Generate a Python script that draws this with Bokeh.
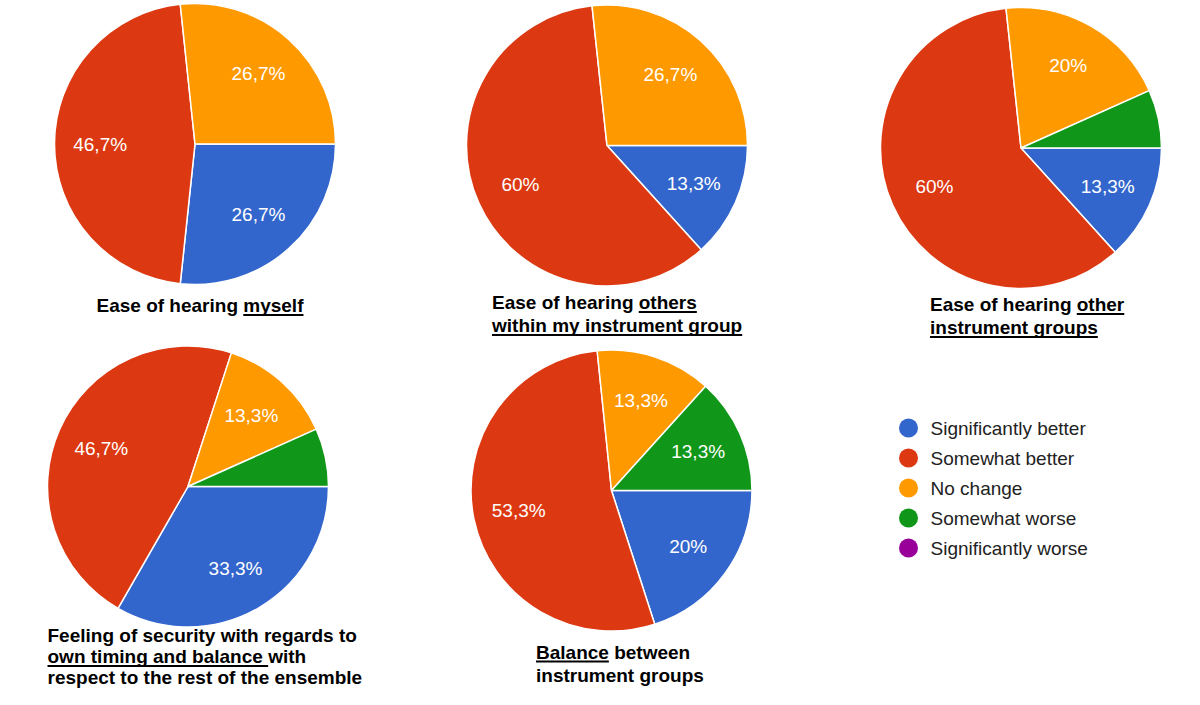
import math
from bokeh.plotting import figure
from bokeh.models import Range1d, ColumnDataSource
from bokeh.embed import file_html
from bokeh.resources import INLINE
from bokeh.core.properties import value

# ---------------- data ----------------
CATEGORIES = ["Significantly better", "Somewhat better", "No change",
              "Somewhat worse", "Significantly worse"]
COLORS = ["#3366cc", "#dc3912", "#ff9900", "#109618", "#990099"]

PIE1 = [26.7, 46.7, 26.7, 0.0, 0.0]
PIE2 = [13.3, 60.0, 26.7, 0.0, 0.0]
PIE3 = [13.3, 60.0, 20.0, 6.7, 0.0]
PIE4 = [33.3, 46.7, 13.3, 6.7, 0.0]
PIE5 = [20.0, 53.3, 13.3, 13.3, 0.0]

TITLE1 = [[("Ease of hearing ", False), ("myself", True)]]
TITLE2 = [[("Ease of hearing ", False), ("others", True)],
          [("within my instrument group", True)]]
TITLE3 = [[("Ease of hearing ", False), ("other", True)],
          [("instrument groups", True)]]
TITLE4 = [[("Feeling of security with regards to", False)],
          [("own timing and balance ", True), ("with", False)],
          [("respect to the rest of the ensemble", False)]]
TITLE5 = [[("Balance", True), (" between", False)],
          [("instrument groups", False)]]

PIES = [PIE1, PIE2, PIE3, PIE4, PIE5]
TITLES = [TITLE1, TITLE2, TITLE3, TITLE4, TITLE5]

# ---------------- layout (image pixel coordinates) ----------------
IMG_H = 705
CENTERS = [(194.5, 143.5), (606.5, 145.0), (1020.5, 147.5), (187.5, 486.0), (611.0, 490.0)]
RADIUS = 140.5
TITLE_X = [96.0, 491.5, 929.5, 47.0, 535.5]
TITLE_BASE = [[312.0], [309.0, 332.0], [311.0, 334.0], [642.0, 663.0, 684.0], [658.5, 682.0]]
LEG_X, LEG_Y0, LEG_DY = 908.0, 427.5, 30.0
FONT = "Liberation Sans"
FS = 19

# Arial/Liberation Sans Bold advance widths (per 1000 em)
BOLD_W = {" ": 278, "a": 556, "b": 611, "c": 556, "d": 611, "e": 556, "f": 333,
          "g": 611, "h": 611, "i": 278, "j": 278, "k": 556, "l": 278, "m": 889,
          "n": 611, "o": 611, "p": 611, "q": 611, "r": 389, "s": 556, "t": 333,
          "u": 611, "v": 556, "w": 778, "x": 556, "y": 556, "z": 500,
          "B": 722, "E": 667, "F": 611}


def tw(s):
    return sum(BOLD_W.get(c, 556) for c in s) * FS / 1000.0


def Y(y):
    return IMG_H - y


def fmt(v):
    if abs(v - round(v)) < 1e-9:
        return "%d%%" % round(v)
    return ("%.1f%%" % v).replace(".", ",")


W, H = 1184, 689
p = figure(width=W, height=H, x_range=Range1d(0, W), y_range=Range1d(IMG_H - H, IMG_H),
           output_backend="svg", toolbar_location=None, min_border=0,
           x_axis_location=None, y_axis_location=None)
p.grid.visible = False
p.outline_line_color = None
p.background_fill_color = "white"
p.border_fill_color = "white"

# wedges
wx, wy, ws, we, wc = [], [], [], [], []
lx, ly, lt = [], [], []
for vals, (cx, cy) in zip(PIES, CENTERS):
    total = sum(vals)
    cum = 0.0
    for v, col in zip(vals, COLORS):
        if v <= 0:
            continue
        a0 = cum / total * 2 * math.pi
        cum += v
        a1 = cum / total * 2 * math.pi
        wx.append(cx); wy.append(Y(cy))
        ws.append(-a1); we.append(-a0); wc.append(col)
        if v / total >= 0.1:
            mid = -(a0 + a1) / 2
            lx.append(cx + 0.675 * RADIUS * math.cos(mid))
            ly.append(Y(cy) + 0.675 * RADIUS * math.sin(mid))
            lt.append(fmt(v))

p.wedge(x="x", y="y", radius=RADIUS, start_angle="s", end_angle="e", fill_color="c",
        line_color="white", line_width=1.5,
        source=ColumnDataSource(dict(x=wx, y=wy, s=ws, e=we, c=wc)))
p.text(x="x", y="y", text="t", source=ColumnDataSource(dict(x=lx, y=ly, t=lt)),
       text_font=value(FONT), text_font_size="%dpx" % FS, text_color="white",
       text_align="center", text_baseline="middle")

# titles
tx, ty, tt = [], [], []
ux0, ux1, uy = [], [], []
for title, x0, bases in zip(TITLES, TITLE_X, TITLE_BASE):
    for line, base in zip(title, bases):
        full = "".join(s for s, _ in line)
        tx.append(x0); ty.append(Y(base - 6.8)); tt.append(full)
        off = 0.0
        for s, u in line:
            w = tw(s)
            if u:
                ux0.append(x0 + off); ux1.append(x0 + off + w); uy.append(Y(base + 2.5))
            off += w
p.text(x="x", y="y", text="t", source=ColumnDataSource(dict(x=tx, y=ty, t=tt)),
       text_font=value(FONT), text_font_size="%dpx" % FS, text_font_style="bold",
       text_color="black", text_align="left", text_baseline="middle")
p.segment(x0="x0", y0="y", x1="x1", y1="y", line_color="black", line_width=2,
          source=ColumnDataSource(dict(x0=ux0, x1=ux1, y=uy)))

# legend
gy = [Y(LEG_Y0 + i * LEG_DY) for i in range(len(CATEGORIES))]
p.scatter(x=[LEG_X] * len(CATEGORIES), y=gy, size=19, fill_color=COLORS, line_color=None)
p.text(x=[LEG_X + 22] * len(CATEGORIES), y=gy, text=CATEGORIES,
       text_font=value(FONT), text_font_size="%dpx" % FS, text_color="#222222",
       text_align="left", text_baseline="middle")

open("out.html", "w").write(file_html(p, INLINE))
